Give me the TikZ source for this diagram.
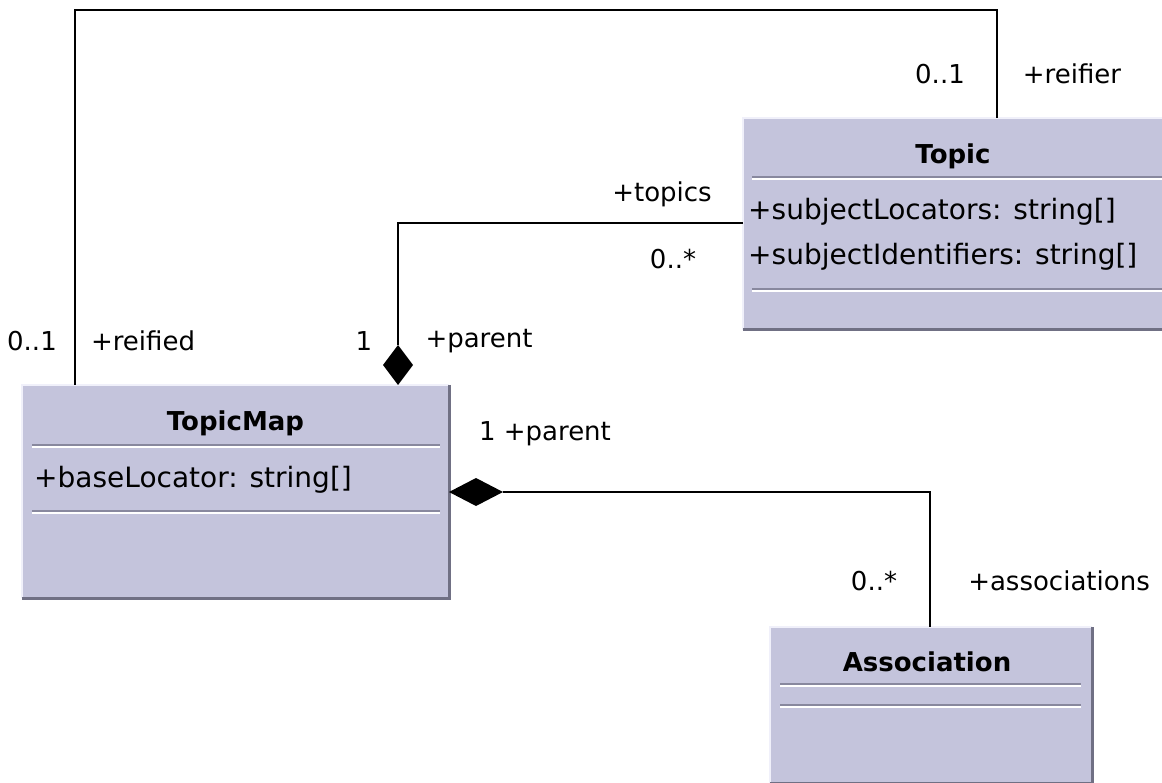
\documentclass[tikz,border=0pt]{standalone}
\usepackage{fontspec}
\setmainfont{DejaVu Sans}
\usetikzlibrary{shapes.geometric}
\definecolor{boxfill}{RGB}{196,196,220}
\definecolor{boxdark}{RGB}{112,112,132}
\definecolor{boxlight}{RGB}{240,240,250}
\definecolor{sepdark}{RGB}{136,136,158}
\tikzset{
  umlbox/.style={rectangle, fill=boxfill, draw=none, inner sep=0pt, outer sep=0pt},
  edgelight/.style={draw=boxlight, line width=2.5pt},
  edgedark/.style={draw=boxdark, line width=3pt},
  sepa/.style={draw=sepdark, line width=1.6pt},
  sepb/.style={draw=white, line width=1.6pt},
  hdr/.style={font=\fontsize{26}{30}\selectfont\bfseries, inner sep=0pt},
  attr/.style={font=\fontsize{28}{32}\selectfont, inner sep=0pt, anchor=west},
  lbl/.style={font=\fontsize{26}{30}\selectfont, inner sep=0pt},
  conn/.style={draw=black, line width=2pt},
  comp/.style={diamond, fill=black, draw=none, inner sep=0pt, outer sep=0pt}
}
\begin{document}
\begin{tikzpicture}[x=1pt,y=-1pt]
\useasboundingbox (0,0) rectangle (1162,783);
% TopicMap
\node[umlbox, minimum width=427pt, minimum height=213pt] (tm) at (235.5,491.5) {};
\draw[edgelight] (tm.south west) -- (tm.north west) -- (tm.north east);
\draw[edgedark] (tm.north east) -- (tm.south east) -- (tm.south west);
\node[hdr] (tmname) at (235.5,423) {TopicMap};
\draw[sepa] (32,445) -- (440,445);
\draw[sepb] (32,447) -- (440,447);
\node[attr] (tmattr) at (34,480) {+baseLocator: string[]};
\draw[sepa] (32,511) -- (440,511);
\draw[sepb] (32,513) -- (440,513);
% Topic
\node[umlbox, minimum width=420pt, minimum height=212pt] (tp) at (953,224) {};
\draw[edgelight] (tp.south west) -- (tp.north west) -- (tp.north east);
\draw[edgedark] (tp.north east) -- (tp.south east) -- (tp.south west);
\node[hdr] (tpname) at (953,156) {Topic};
\draw[sepa] (752,177) -- (1170,177);
\draw[sepb] (752,179) -- (1170,179);
\node[attr] (tpattr1) at (748,212) {+subjectLocators: string[]};
\node[attr] (tpattr2) at (748,257) {+subjectIdentifiers: string[]};
\draw[sepa] (752,289) -- (1170,289);
\draw[sepb] (752,291) -- (1170,291);
% Association
\node[umlbox, minimum width=322pt, minimum height=156pt] (as) at (931,705) {};
\draw[edgelight] (as.south west) -- (as.north west) -- (as.north east);
\draw[edgedark] (as.north east) -- (as.south east) -- (as.south west);
\node[hdr] (asname) at (927,662) {Association};
\draw[sepa] (780,684) -- (1081,684);
\draw[sepb] (780,686) -- (1081,686);
\draw[sepa] (780,705) -- (1081,705);
\draw[sepb] (780,707) -- (1081,707);
% reifier / reified
\coordinate (r1) at (75,10);
\coordinate (r2) at (997,10);
\draw[conn] (tm.north -| r1) -- (r1) -- (r2) -- (tp.north -| r2);
\node[lbl] (m1) at (940,74) {0..1};
\node[lbl] (m2) at (1072,74) {+reifier};
\node[lbl] (m3) at (32,341) {0..1};
\node[lbl] (m4) at (143,341) {+reified};
% topics / parent
\coordinate (t1) at (398,223);
\node[comp, minimum width=30pt, minimum height=40pt, anchor=south] (d1) at (tm.north -| t1) {};
\draw[conn] (tp.west |- t1) -- (t1) -- (d1.north);
\node[lbl] (m5) at (662,194) {+topics};
\node[lbl] (m6) at (673,259) {0..*};
\node[lbl] (m7) at (364,341) {1};
\node[lbl] (m8) at (479,341) {+parent};
% associations / parent
\coordinate (a1) at (930,492);
\node[comp, minimum width=54pt, minimum height=28pt, anchor=west] (d2) at (tm.east |- a1) {};
\draw[conn] (d2.east) -- (a1) -- (as.north -| a1);
\node[lbl] (m9) at (545,434) {1 +parent};
\node[lbl] (m10) at (874,581) {0..*};
\node[lbl] (m11) at (1059,581) {+associations};
\end{tikzpicture}
\end{document}
